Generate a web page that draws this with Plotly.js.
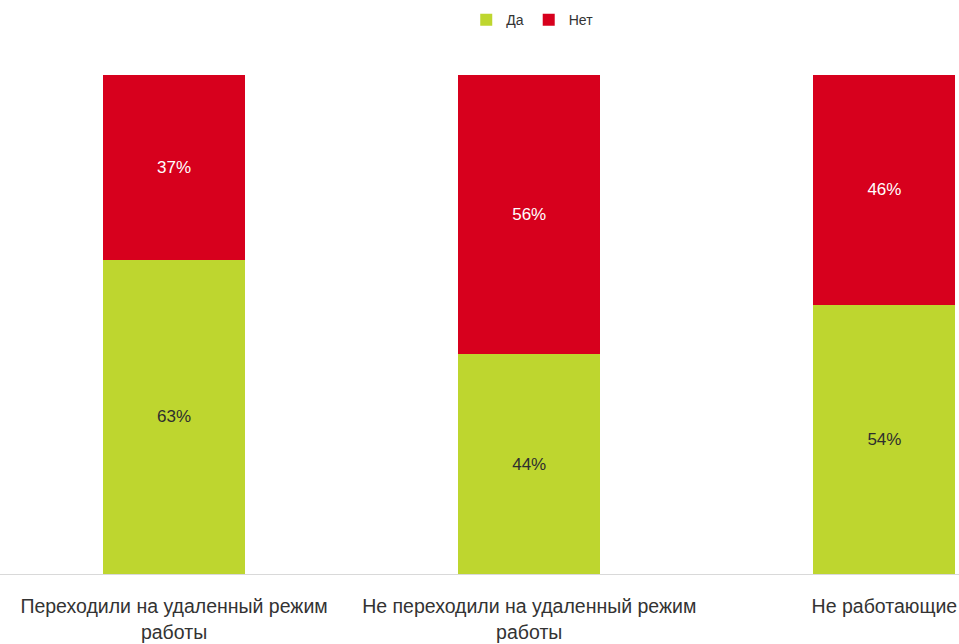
<!DOCTYPE html>
<html><head><meta charset="utf-8">
<script src="https://cdn.plot.ly/plotly-3.0.1.min.js"></script>
<style>body{margin:0;background:#fff}#c{width:959px;height:644px}</style>
</head><body><div id="c"></div>
<script>
const categories = ["Переходили на удаленный режим<br>работы", "Не переходили на удаленный режим<br>работы", "Не работающие"];
const yesValues = [63, 44, 54];
const noValues = [37, 56, 46];
const seriesNames = ["Да", "Нет"];

const font = "'Liberation Sans', Arial, sans-serif";
const traces = [
  {type:'bar', name:seriesNames[0], x:categories, y:yesValues, marker:{color:'#BED62F'},
   text:yesValues.map(v=>v+'%'), textposition:'inside', insidetextanchor:'middle',
   textfont:{color:'#2e2e2e', size:17, family:font}, hoverinfo:'none'},
  {type:'bar', name:seriesNames[1], x:categories, y:noValues, marker:{color:'#D7001D'},
   text:noValues.map(v=>v+'%'), textposition:'inside', insidetextanchor:'middle',
   textfont:{color:'#ffffff', size:17, family:font}, hoverinfo:'none'}
];
const layout = {
  width:959, height:644, barmode:'stack', bargap:0.6,
  margin:{l:0, r:0, t:75, b:70},
  paper_bgcolor:'#fff', plot_bgcolor:'#fff',
  font:{family:font, color:'#333333', size:16},
  showlegend:true,
  legend:{orientation:'h', x:0.555, xanchor:'center', y:1.11, yanchor:'middle',
          font:{size:14, color:'#333'}, traceorder:'normal', itemwidth:30},
  xaxis:{type:'category', range:[-0.49, 2.21], showline:true, linecolor:'#d9d9d9', linewidth:1,
         ticks:'', tickfont:{size:19.5, color:'#333'}, ticklabelstandoff:15, showgrid:false, fixedrange:true},
  yaxis:{range:[0,100], visible:false, showgrid:false, fixedrange:true}
};
Plotly.newPlot('c', traces, layout, {displayModeBar:false, staticPlot:true});
</script></body></html>
